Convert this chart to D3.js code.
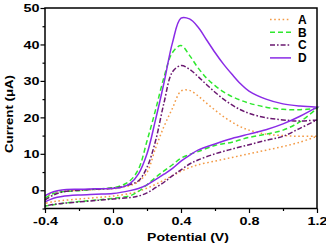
<!DOCTYPE html>
<html>
<head>
<meta charset="utf-8">
<script src="https://cdn.jsdelivr.net/npm/d3@7"></script>
<style>
  body { margin: 0; background: #fff; }
  text { font-family: "Liberation Sans", Arial, sans-serif; font-weight: bold; fill: #000; }
</style>
</head>
<body>
<svg id="chart" width="326" height="246"></svg>
<script>
  // potentials (V) for the forward and the reverse scan
  const fwdPotential = [-0.4, -0.35, -0.3, -0.2, -0.1, 0.0, 0.05, 0.1, 0.15, 0.2, 0.25, 0.3, 0.35, 0.4, 0.45, 0.5, 0.55, 0.6, 0.65, 0.7, 0.75, 0.8, 0.9, 1.0, 1.1, 1.2];
  const revPotential = [1.2, 1.1, 1.0, 0.9, 0.8, 0.7, 0.6, 0.5, 0.45, 0.4, 0.35, 0.3, 0.25, 0.2, 0.15, 0.1, 0.0, -0.1, -0.2, -0.3, -0.35, -0.4];

  // currents (uA)
  const fwdA = [-2.0, -0.7, -0.3, 0, 0.2, 0.4, 0.8, 1.3, 2.4, 4.9, 11.5, 17.5, 22.5, 27.2, 27.4, 25.9, 23.9, 22.0, 20.2, 18.7, 17.4, 16.5, 15.4, 15.0, 14.8, 14.8];
  const revA = [14.8, 13.2, 12.0, 11.0, 10.0, 9.0, 8.0, 7.0, 6.2, 5.2, 4.0, 2.8, 1.6, 0.6, -0.3, -0.9, -1.6, -2.0, -2.4, -2.8, -3.1, -3.6];
  const fwdB = [-2.2, -0.9, -0.4, -0.1, 0.3, 0.7, 1.3, 2.6, 5.8, 13.5, 22, 31, 37.8, 39.7, 37.0, 33.6, 30.8, 28.7, 27.0, 25.7, 24.7, 23.9, 22.8, 22.2, 22.1, 22.5];
  const revB = [22.5, 18.8, 16.5, 15.4, 14.5, 13.2, 12.3, 10.6, 9.8, 8.8, 7.0, 5.3, 3.5, 1.5, -0.3, -1.5, -2.2, -2.7, -3.1, -3.6, -4.0, -4.3];
  const fwdC = [-2.7, -1.3, -0.5, 0, 0.3, 0.6, 0.9, 1.6, 2.6, 6.3, 13.5, 24, 32.5, 34.2, 33.2, 31.2, 29.0, 26.9, 25.0, 23.4, 22.1, 21.1, 19.9, 19.3, 19.0, 19.3];
  const revC = [19.3, 17.0, 14.8, 13.7, 12.5, 11.3, 10.0, 8.3, 7.2, 5.6, 4.0, 2.2, 0.7, -0.7, -1.6, -2.0, -2.4, -2.8, -3.2, -3.6, -3.9, -4.3];
  const fwdD = [-1.5, -0.4, 0.1, 0.3, 0.4, 0.5, 0.8, 1.8, 4.5, 10, 19.3, 29.5, 40.5, 47.2, 47.0, 44.8, 41.3, 37.8, 34.6, 31.8, 29.2, 27.2, 25.0, 23.7, 23.1, 22.8];
  const revD = [22.8, 20.3, 18.2, 16.6, 15.4, 14.2, 12.7, 11.0, 9.6, 8.0, 6.0, 4.4, 2.9, 1.5, 0.5, -0.1, -0.9, -1.1, -1.3, -1.7, -2.2, -3.2];

  const seriesNames = ["A", "B", "C", "D"];
  const seriesFwd = [fwdA, fwdB, fwdC, fwdD];
  const seriesRev = [revA, revB, revC, revD];
  const seriesColors = ["#f39a45", "#2ee82e", "#6a1870", "#8a2be6"];
  const seriesDash = ["1.6,2.6", "5,3", "5,2,1.6,2", null];

  const xMajor = [-0.4, 0.0, 0.4, 0.8, 1.2];
  const xMinor = [-0.2, 0.2, 0.6, 1.0];
  const yMajor = [0, 10, 20, 30, 40, 50];
  const yMinor = [-5, 5, 15, 25, 35, 45];

  const svg = d3.select("#chart");
  const plotLeft = 45, plotRight = 317, plotTop = 8, plotBottom = 208.5;

  const x = d3.scaleLinear().domain([-0.4, 1.2]).range([plotLeft, plotRight]);
  const y = d3.scaleLinear().domain([-5, 50]).range([plotBottom, plotTop]);

  // stretch text a bit wider, the picture is drawn with wide glyphs
  function widen(sel, k) {
    sel.each(function () {
      const len = this.getComputedTextLength();
      d3.select(this).attr("textLength", len * k).attr("lengthAdjust", "spacingAndGlyphs");
    });
  }

  // minor ticks
  svg.append("g")
    .attr("transform", `translate(0,${plotBottom})`)
    .call(d3.axisBottom(x).tickValues(xMinor).tickSize(2.5).tickFormat(""))
    .call(g => g.select(".domain").remove());
  svg.append("g")
    .attr("transform", `translate(${plotLeft},0)`)
    .call(d3.axisLeft(y).tickValues(yMinor).tickSize(2.5).tickFormat(""))
    .call(g => g.select(".domain").remove());

  // major ticks
  const gx = svg.append("g")
    .attr("transform", `translate(0,${plotBottom})`)
    .call(d3.axisBottom(x).tickValues(xMajor).tickSize(4.5).tickFormat(d => d.toFixed(1)))
    .call(g => g.select(".domain").remove());
  gx.attr("font-family", null).attr("font-size", 11.5);
  gx.selectAll("text").attr("y", 8.5);

  const gy = svg.append("g")
    .attr("transform", `translate(${plotLeft},0)`)
    .call(d3.axisLeft(y).tickValues(yMajor).tickSize(4.5))
    .call(g => g.select(".domain").remove());
  gy.attr("font-family", null).attr("font-size", 11.5);
  gy.selectAll("text").attr("x", -5.5);

  svg.selectAll(".tick line").attr("stroke", "#000").attr("stroke-width", 1.2);
  widen(gx.selectAll("text"), 1.25);
  widen(gy.selectAll("text"), 1.25);

  // curves
  const line = d3.line()
    .x(d => x(d[0]))
    .y(d => y(d[1]))
    .curve(d3.curveCatmullRom.alpha(0.5));

  seriesNames.forEach((name, i) => {
    const pts = fwdPotential.map((v, j) => [v, seriesFwd[i][j]])
      .concat(revPotential.map((v, j) => [v, seriesRev[i][j]]));
    svg.append("path")
      .attr("d", line(pts))
      .attr("fill", "none")
      .attr("stroke", seriesColors[i])
      .attr("stroke-width", 1.5)
      .attr("stroke-dasharray", seriesDash[i]);
  });

  // frame
  svg.append("rect")
    .attr("x", plotLeft).attr("y", plotTop)
    .attr("width", plotRight - plotLeft).attr("height", plotBottom - plotTop)
    .attr("fill", "none").attr("stroke", "#000").attr("stroke-width", 1.5);

  // legend
  const legend = svg.append("g");
  seriesNames.forEach((name, i) => {
    const ly = 19.5 + i * 12.8;
    legend.append("line")
      .attr("x1", 270).attr("x2", 291).attr("y1", ly).attr("y2", ly)
      .attr("stroke", seriesColors[i]).attr("stroke-width", 1.5)
      .attr("stroke-dasharray", seriesDash[i]);
    legend.append("text")
      .attr("x", 298).attr("y", ly).attr("dy", "0.36em")
      .attr("font-size", 12)
      .text(name);
  });

  // axis titles
  const xt = svg.append("text")
    .attr("x", 188).attr("y", 241)
    .attr("text-anchor", "middle").attr("font-size", 11.5)
    .text("Potential (V)");
  widen(xt, 1.22);

  const yt = svg.append("text")
    .attr("transform", "translate(12.5,114) rotate(-90)")
    .attr("text-anchor", "middle").attr("font-size", 11.5)
    .text("Current (μA)");
  widen(yt, 1.15);
</script>
</body>
</html>
